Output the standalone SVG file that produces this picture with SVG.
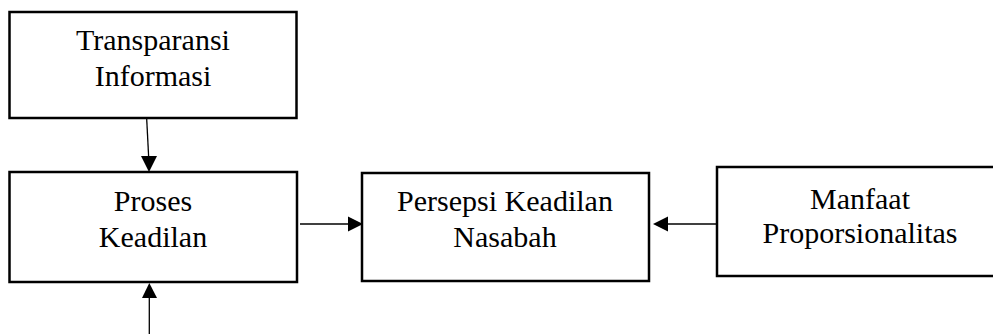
<svg xmlns="http://www.w3.org/2000/svg" width="993" height="334" viewBox="0 0 993 334">
<style>
.box{fill:#fff;stroke:#000;stroke-width:2.5}
.lbl{font-family:"Liberation Serif","Times New Roman",serif;font-size:30px;fill:#000;text-anchor:middle}
.conn{stroke:#000;stroke-width:1.3;fill:none}
.head{fill:#000}
</style>
<rect width="993" height="334" fill="#fff"/>
<g id="transparansi">
<rect class="box" x="9.5" y="12" width="287" height="106"/>
<text class="lbl" x="153" y="50">Transparansi</text>
<text class="lbl" x="153" y="86">Informasi</text>
</g>
<g id="proses">
<rect class="box" x="9.5" y="172" width="287.5" height="110"/>
<text class="lbl" x="153" y="211">Proses</text>
<text class="lbl" x="153" y="247">Keadilan</text>
</g>
<g id="persepsi">
<rect class="box" x="362" y="173" width="287" height="108"/>
<text class="lbl" x="505" y="211">Persepsi Keadilan</text>
<text class="lbl" x="505" y="247">Nasabah</text>
</g>
<g id="manfaat">
<rect class="box" x="717" y="167" width="290" height="109"/>
<text class="lbl" x="860" y="209">Manfaat</text>
<text class="lbl" x="860" y="243">Proporsionalitas</text>
</g>
<g id="connectors">
<line class="conn" x1="146.7" y1="119" x2="148.7" y2="158"/>
<polygon class="head" points="141,156 157,156 149,172"/>
<line class="conn" x1="149.3" y1="334" x2="149.3" y2="296"/>
<polygon class="head" points="142,298 157,298 149.3,283"/>
<line class="conn" x1="300" y1="224" x2="350" y2="224"/>
<polygon class="head" points="348,216.5 348,231.5 363,224"/>
<line class="conn" x1="717" y1="224" x2="666" y2="224"/>
<polygon class="head" points="668,216.5 668,231.5 653,224"/>
</g>
</svg>
